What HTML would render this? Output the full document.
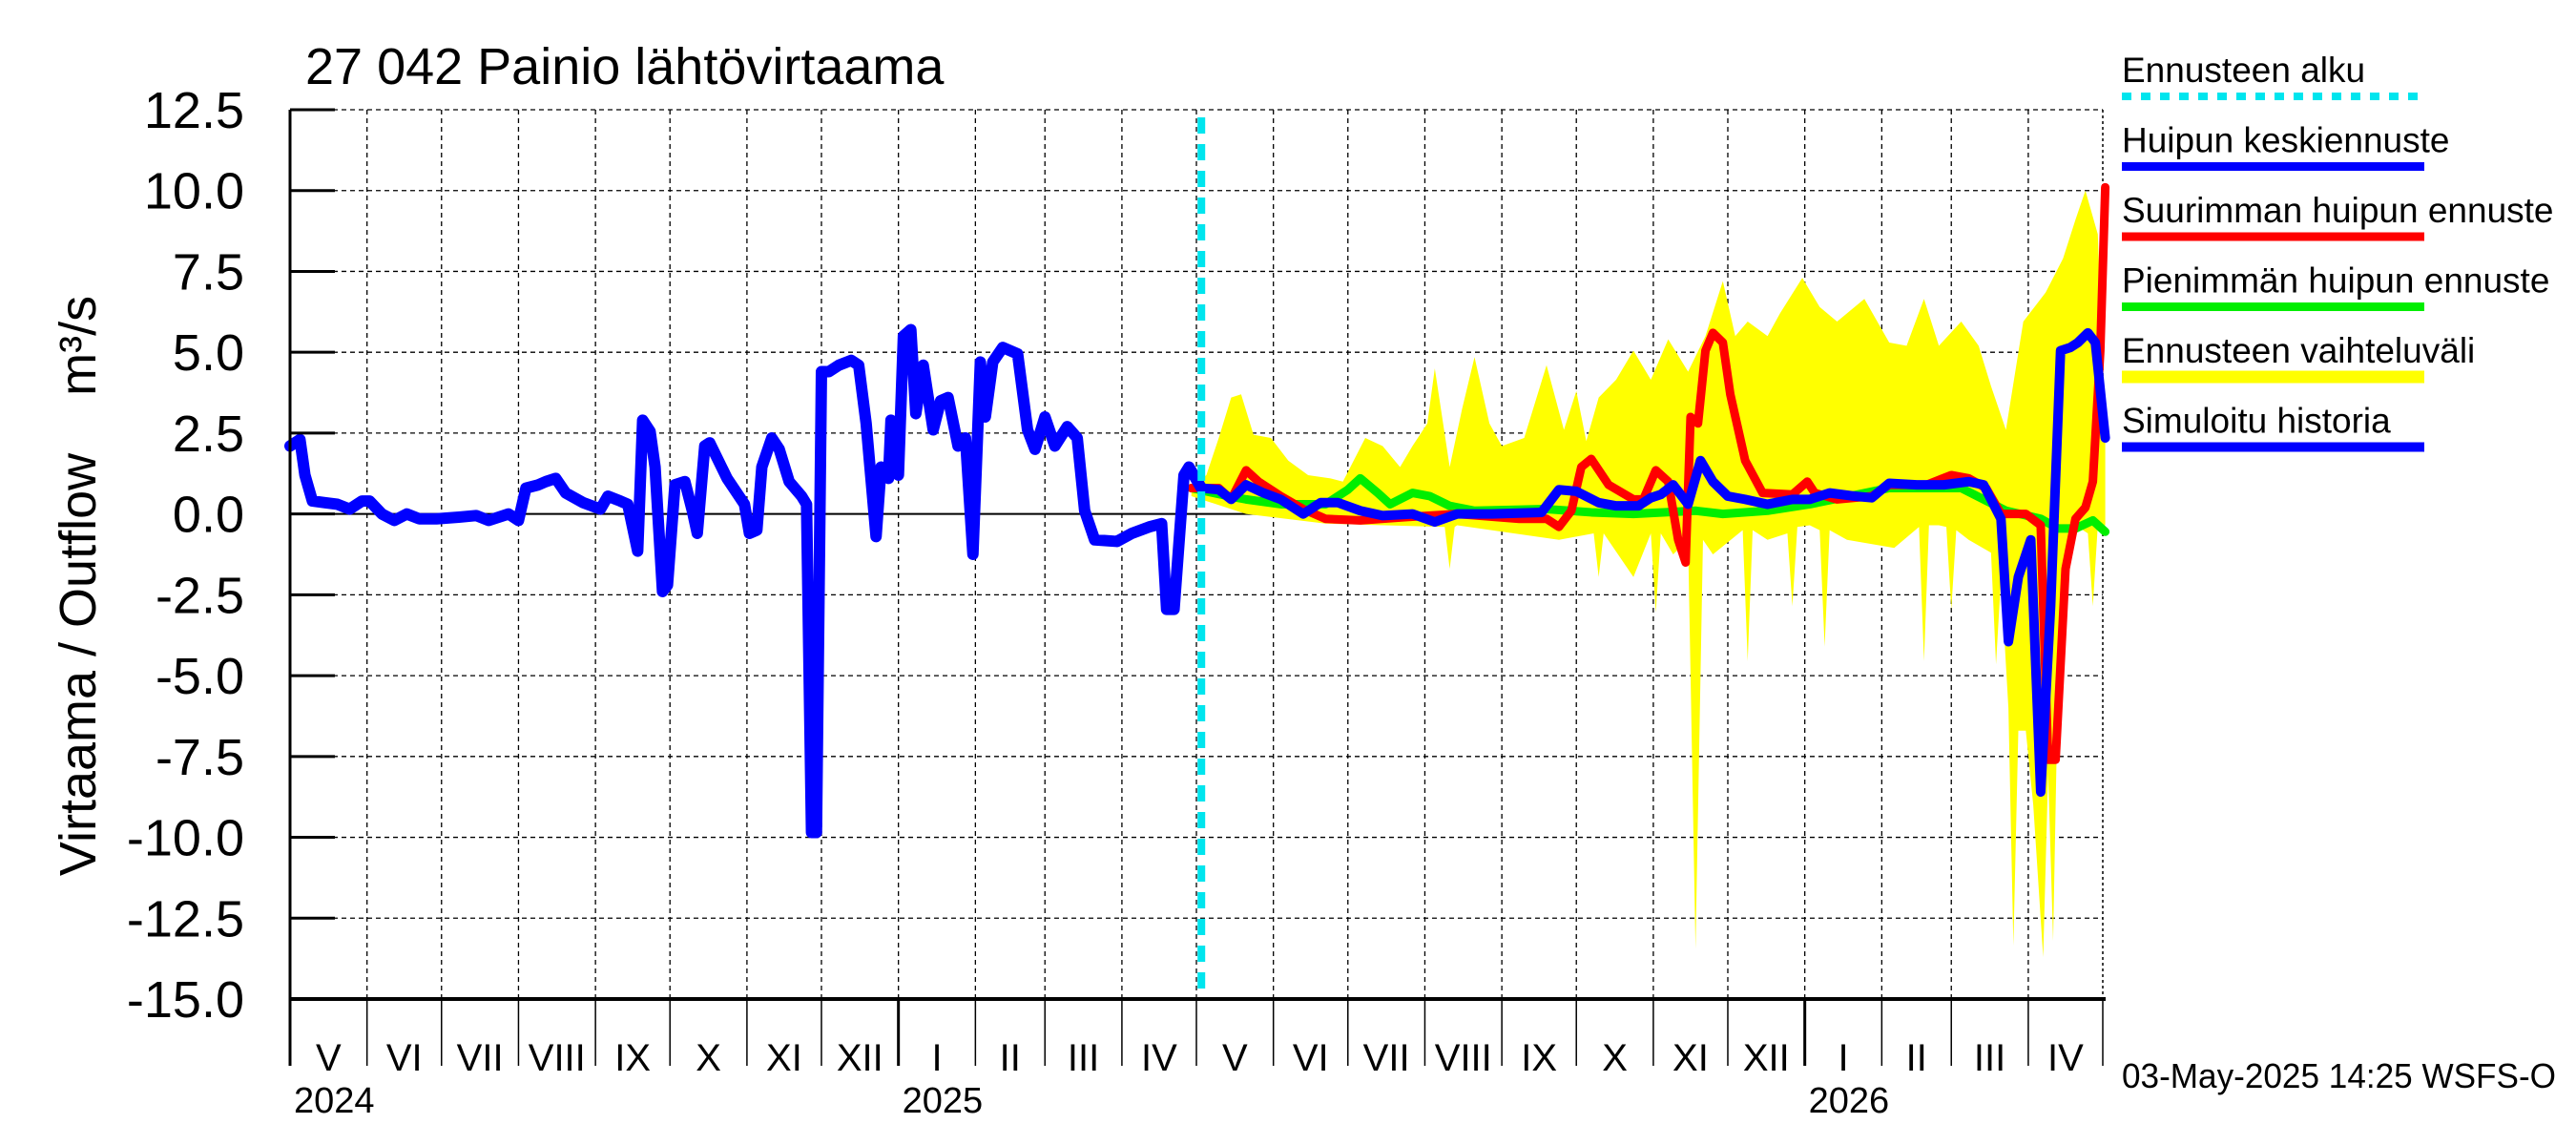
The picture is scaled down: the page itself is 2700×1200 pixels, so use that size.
<!DOCTYPE html>
<html><head><meta charset="utf-8"><style>
html,body{margin:0;padding:0;background:#fff;}
svg{display:block;font-family:"Liberation Sans",sans-serif;}
</style></head><body>
<svg id="chart" width="2700" height="1200" viewBox="0 0 2700 1200" xmlns="http://www.w3.org/2000/svg">
<text x="320" y="88" font-size="54">27 042 Painio lähtövirtaama</text>
<text transform="translate(100,614) rotate(-90)" text-anchor="middle" font-size="54" xml:space="preserve" style="white-space:pre">Virtaama / Outflow    m³/s</text>
<g id="grid"></g>
<g id="band"></g>
<g id="lines"></g>
<g id="axes"></g>
<g id="legend"></g>
<text x="2224" y="1140" font-size="36" textLength="455" lengthAdjust="spacingAndGlyphs">03-May-2025 14:25 WSFS-O</text>
</svg>
<script>
// ---- data ----
const yTicks = [12.5,10.0,7.5,5.0,2.5,0.0,-2.5,-5.0,-7.5,-10.0,-12.5,-15.0];
const monthLabels = ["V","VI","VII","VIII","IX","X","XI","XII","I","II","III","IV","V","VI","VII","VIII","IX","X","XI","XII","I","II","III","IV"];
const monthDays = [31,30,31,31,30,31,30,31,31,28,31,30,31,30,31,31,30,31,30,31,31,28,31,30];
const yearLabels = ["2024","2025","2026"];
const yearStartMonth = [0,8,20];
const forecastStartDay = 367;
const histDays = [0,4,6,9,14,19,24,29,32,37,42,47,52,59,68,75,80,88,92,95,100,103,107,111,118,125,128,133,136,140,142,145,147,150,152,155,159,162,164,167,169,176,183,185,188,190,194,197,201,206,208,210,212,214,217,221,226,229,232,236,238,241,242,245,247,250,252,255,259,262,265,269,272,275,278,280,283,287,293,297,300,304,308,313,317,320,324,333,339,346,351,353,356,360,362,367];
const histVals = [2.1,2.3,1.2,0.4,0.35,0.3,0.15,0.4,0.4,0,-0.2,0,-0.15,-0.15,-0.1,-0.05,-0.2,0,-0.2,0.8,0.9,1.0,1.1,0.65,0.35,0.15,0.55,0.4,0.3,-1.15,2.9,2.55,1.45,-2.4,-2.2,0.9,1.0,0.1,-0.6,2.1,2.2,1.1,0.3,-0.6,-0.5,1.45,2.35,2.0,1.0,0.55,0.3,-9.85,-9.85,4.4,4.4,4.6,4.75,4.6,2.8,-0.7,1.45,1.1,2.9,1.2,5.5,5.7,3.1,4.6,2.6,3.5,3.6,2.1,2.35,-1.25,4.7,3.0,4.7,5.15,4.95,2.6,2.0,3.0,2.1,2.7,2.35,0.1,-0.8,-0.85,-0.6,-0.4,-0.3,-2.95,-2.95,1.2,1.45,0.8];
const blueDays = [363,367,374,379,385,392,399,408,415,422,431,440,452,461,470,484,504,511,518,527,534,543,548,552,557,563,568,573,579,586,595,605,612,620,630,637,644,655,666,676,682,685,689,692,696,701,705,709,713,717,720,724,727,731];
const blueVals = [1.3,0.8,0.75,0.45,0.9,0.65,0.45,0,0.35,0.35,0.1,-0.05,0,-0.25,0,0,0.05,0.75,0.7,0.35,0.25,0.25,0.5,0.6,0.9,0.3,1.65,1.0,0.55,0.45,0.3,0.45,0.45,0.65,0.55,0.5,0.95,0.9,0.9,1.0,0.9,0.45,-0.15,-3.95,-1.95,-0.8,-8.6,-2.85,5.05,5.15,5.3,5.6,5.3,2.35];
const redDays = [363,374,379,385,390,399,408,417,431,449,470,495,506,511,516,520,524,531,541,545,550,555,559,562,564,567,570,573,577,580,586,593,605,611,614,623,637,644,659,669,676,683,689,699,705,708,711,715,719,723,726,729,731];
const redVals = [0.8,0.8,0.45,1.35,1.0,0.55,0.15,-0.15,-0.2,-0.1,0,-0.15,-0.15,-0.4,0.1,1.45,1.7,0.9,0.45,0.45,1.35,1.0,-0.8,-1.5,3.0,2.8,5.05,5.6,5.3,3.7,1.65,0.65,0.6,1.0,0.65,0.45,0.55,0.9,0.9,1.2,1.1,0.8,0,0,-0.35,-7.6,-7.6,-1.7,-0.15,0.2,1.0,5.05,10.1];
const greenDays = [363,378,385,399,417,426,431,438,443,452,459,467,477,506,524,541,566,577,595,612,644,673,691,705,712,719,726,731];
const greenVals = [0.8,0.55,0.45,0.3,0.3,0.75,1.1,0.65,0.3,0.65,0.55,0.25,0.1,0.15,0.05,0,0.1,0,0.1,0.3,0.8,0.8,0.1,-0.15,-0.45,-0.45,-0.2,-0.55];
const bandHiDays = [363,369,374,379,383,388,395,402,410,419,424,433,440,447,452,458,461,467,472,477,483,488,497,506,513,518,522,527,534,541,548,555,563,570,577,582,587,595,600,609,616,623,634,644,651,658,664,673,680,685,691,698,707,714,719,723,728,731];
const bandHiVals = [0.9,1.2,2.35,3.6,3.7,2.45,2.35,1.65,1.2,1.1,1.0,2.35,2.1,1.45,2.1,2.8,4.5,1.45,3.25,4.85,2.8,2.1,2.35,4.6,2.6,3.8,2.25,3.6,4.15,5.05,4.15,5.4,4.4,5.5,7.2,5.5,5.95,5.5,6.2,7.3,6.4,5.95,6.65,5.3,5.2,6.65,5.2,5.95,5.2,3.95,2.6,5.95,6.85,7.9,9.1,10.0,8.65,2.35];
const bandLoDays = [363,385,417,465,467,469,470,511,525,527,529,541,548,550,552,557,563,566,569,573,585,587,589,595,603,605,607,612,616,618,620,627,646,656,658,660,664,667,669,671,676,685,687,689,692,694,696,699,702,706,708,710,712,714,719,724,726,728,731];
const bandLoVals = [0.55,0,-0.3,-0.4,-1.7,-0.4,-0.35,-0.8,-0.6,-1.95,-0.6,-1.95,-0.6,-3.05,-0.6,-1.25,-0.8,-13.45,-0.8,-1.25,-0.5,-4.55,-0.5,-0.8,-0.6,-2.85,-0.4,-0.35,-0.5,-4.1,-0.5,-0.8,-1.05,-0.4,-4.55,-0.35,-0.35,-0.4,-2.95,-0.5,-0.8,-1.2,-4.65,-2.0,-6.0,-13.35,-6.7,-6.7,-9.0,-13.7,-8.0,-13.2,-5.0,-3.3,-0.35,-0.6,-2.85,-0.35,-0.35];

// ---- scales ----
const X0=304, X1=2204, Y0=115, Y1=1047, TOTAL=730;
const xs = d => X0 + d*(X1-X0)/TOTAL;
const ys = v => Y0 + (12.5-v)*(Y1-Y0)/27.5;
const NS="http://www.w3.org/2000/svg";
function mk(tag, parent, attrs){const e=document.createElementNS(NS,tag);for(const k in attrs)e.setAttribute(k,attrs[k]);parent.appendChild(e);return e;}
const grid=document.getElementById('grid'), axes=document.getElementById('axes'), band=document.getElementById('band'), lines=document.getElementById('lines'), legend=document.getElementById('legend');

yTicks.forEach(v=>{
  const y=ys(v);
  if(v!==-15){
    const g=mk('line',grid,{x1:X0,x2:X1,y1:y,y2:y,stroke:'#000','stroke-width':v===0?2:1.3,'stroke-dasharray':v===0?'none':'5,4'});
    
    
  }
  const t=mk('line',axes,{x1:X0,x2:X0+47,y1:y,y2:y,stroke:'#000','stroke-width':3});
  
  
  const l=mk('text',axes,{x:256,y:y+19,'text-anchor':'end','font-size':54});
  l.textContent=v.toFixed(1);
  
  
});

let day=0;
monthDays.forEach((n,i)=>{
  const xa=xs(day), xb=xs(day+n);
  if(i>0){
    const g=mk('line',grid,{x1:xa,x2:xa,y1:Y0,y2:Y1,stroke:'#000','stroke-width':1.3,'stroke-dasharray':'5,4'});
    
    
  }
  const isYear=yearStartMonth.includes(i);
  const t=mk('line',axes,{x1:xa,x2:xa,y1:Y1,y2:1117,stroke:'#000','stroke-width':isYear?3:1.5});
  
  
  const lbl=mk('text',axes,{x:(xa+xb)/2,y:1122,'text-anchor':'middle','font-size':40});
  lbl.textContent=monthLabels[i];
  
  
  day+=n;
});
const te=mk('line',axes,{x1:X1,x2:X1,y1:Y1,y2:1117,stroke:'#000','stroke-width':1.5});


yearLabels.forEach((yl,k)=>{
  let d=0;for(let i=0;i<yearStartMonth[k];i++)d+=monthDays[i];
  const t=mk('text',axes,{x:xs(d)+4,y:1166,'font-size':38});
  t.textContent=yl;
  
  
});
const rb=mk('line',grid,{x1:X1,x2:X1,y1:Y0,y2:Y1,stroke:'#000','stroke-width':1.5,'stroke-dasharray':'3,3'});


const la=mk('line',axes,{x1:X0,x2:X0,y1:Y0,y2:Y1,stroke:'#000','stroke-width':3});


const ba=mk('line',axes,{x1:X0,x2:X1+3,y1:Y1,y2:Y1,stroke:'#000','stroke-width':4});



let pts=bandHiDays.map((d,i)=>xs(d)+','+ys(bandHiVals[i]));
for(let i=bandLoDays.length-1;i>=0;i--)pts.push(xs(bandLoDays[i])+','+ys(bandLoVals[i]));
const bp=mk('polygon',band,{points:pts.join(' '),fill:'#ffff00'});



function line(ds,vs,color,w,name){
  const p=mk('polyline',lines,{points:ds.map((d,i)=>xs(d)+','+ys(vs[i])).join(' '),fill:'none',stroke:color,'stroke-width':w,'stroke-linejoin':'round','stroke-linecap':'round'});
  
  
}
line(greenDays,greenVals,'#00ee00',9,'min-peak-forecast-line');
line(redDays,redVals,'#ff0000',9,'max-peak-forecast-line');
line(blueDays,blueVals,'#0000ff',10,'mean-peak-forecast-line');
line(histDays,histVals,'#0000ff',12,'simulated-history-line');
const fl=mk('line',lines,{x1:xs(forecastStartDay),x2:xs(forecastStartDay),y1:Y0+8,y2:Y1,stroke:'#00e5ee','stroke-width':8,'stroke-dasharray':'17,11'});



const legItems=[["Ennusteen alku","#00e5ee",8,"10,10"],["Huipun keskiennuste","#0000ff",9,null],["Suurimman huipun ennuste","#ff0000",9,null],["Pienimmän huipun ennuste","#00ee00",9,null],["Ennusteen vaihteluväli","#ffff00",13,null],["Simuloitu historia","#0000ff",10,null]];
legItems.forEach((it,i)=>{
  const y=86+i*73.5;
  const t=mk('text',legend,{x:2224,y:y,'font-size':37});
  t.textContent=it[0];
  
  
  const a={x1:2224,x2:2541,y1:y+15,y2:y+15,stroke:it[1],'stroke-width':it[2]};
  if(it[3])a['stroke-dasharray']=it[3];
  const l=mk('line',legend,a);
  
  
});
</script>
</body></html>
